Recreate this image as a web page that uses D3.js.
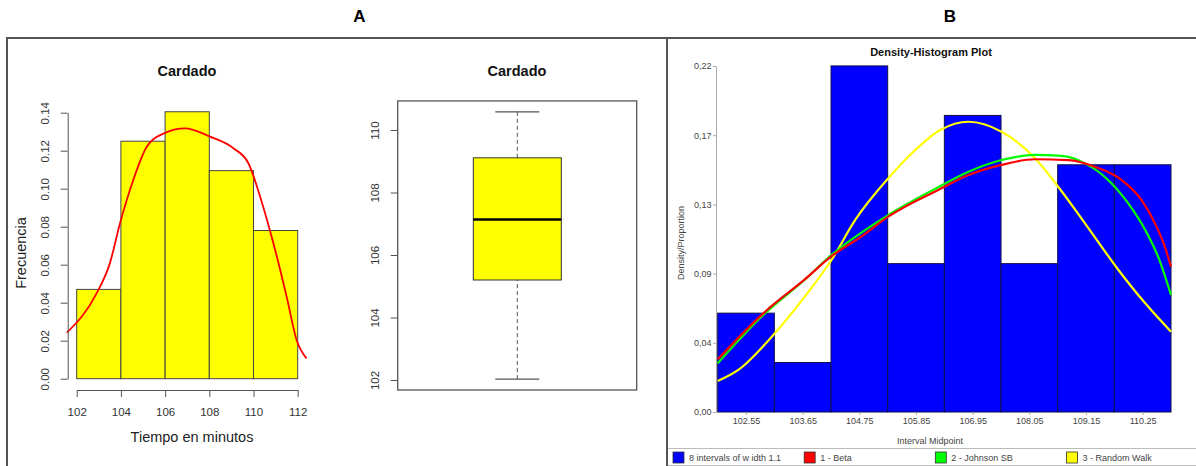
<!DOCTYPE html>
<html lang="es">
<head>
    <meta charset="UTF-8">
    <title>Cardado</title>
    <script src="https://d3js.org/d3.v7.min.js"></script>
</head>
<style>
    body{
        margin: 0;
        background: #fff;
        font-family: 'Liberation Sans', Arial, sans-serif;
    }
    svg text{
        font-family: 'Liberation Sans', Arial, sans-serif;
    }
</style>
<body>
    <div id="chart-container"></div>
    <script>
        // panel A - histogram
        const histEdges = [102, 104, 106, 108, 110, 112];
        const histFreq = [0.047, 0.125, 0.1405, 0.1095, 0.078];
        const histYTicks = [0, 0.02, 0.04, 0.06, 0.08, 0.10, 0.12, 0.14];
        const histXTicks = [102, 104, 106, 108, 110, 112];
        const densX = [101.55, 102.9, 103.5, 103.96, 104.56, 105.17, 105.92, 106.9, 108.03, 109.09, 109.77, 110.3, 110.9, 111.5, 111.95, 112.4];
        const densY = [0.0242, 0.0449, 0.0607, 0.0818, 0.1046, 0.1221, 0.129, 0.1318, 0.1274, 0.1213, 0.1134, 0.0958, 0.0713, 0.0432, 0.0204, 0.0107];

        // panel A - boxplot (min, q1, median, q3, max)
        const boxStats = [102.03, 105.2, 107.14, 109.11, 110.58];
        const boxTicks = [102, 104, 106, 108, 110];

        // panel B - density histogram
        const binMids = [102.55, 103.65, 104.75, 105.85, 106.95, 108.05, 109.15, 110.25];
        const binLabels = ["102.55", "103.65", "104.75", "105.85", "106.95", "108.05", "109.15", "110.25"];
        const binProps = [0.0625, 0.0313, 0.2188, 0.0938, 0.1875, 0.0938, 0.1563, 0.1563];
        const binWidth = 1.1;
        const yTickLabels = ["0,00", "0,04", "0,09", "0,13", "0,17", "0,22"];

        const betaX = [102.0, 102.92, 103.69, 104.21, 104.80, 105.31, 106.28, 106.87, 107.51, 108.16, 108.81, 109.32, 109.84, 110.23, 110.52, 110.68, 110.8];
        const betaY = [0.0333, 0.0634, 0.0838, 0.0985, 0.1112, 0.1235, 0.1404, 0.1498, 0.1562, 0.1598, 0.1593, 0.1551, 0.1467, 0.134, 0.1172, 0.1045, 0.0919];
        const johnsonX = [102.0, 102.92, 103.69, 104.21, 105.31, 106.28, 106.87, 107.51, 108.16, 108.68, 109.13, 109.58, 109.97, 110.30, 110.55, 110.8];
        const johnsonY = [0.0308, 0.0624, 0.0836, 0.0993, 0.1245, 0.1421, 0.1519, 0.1593, 0.1625, 0.1619, 0.1572, 0.1467, 0.1319, 0.1151, 0.0982, 0.074];
        const walkX = [102.0, 102.40, 103.05, 103.69, 104.21, 104.67, 105.31, 105.77, 106.32, 106.87, 107.51, 108.16, 108.61, 109.13, 109.78, 110.30, 110.8];
        const walkY = [0.0196, 0.0266, 0.0476, 0.0729, 0.0961, 0.1214, 0.1477, 0.1636, 0.1783, 0.1835, 0.1772, 0.1604, 0.1424, 0.1193, 0.0898, 0.0687, 0.0508];

        const legendLabels = ["8 intervals of w idth 1.1", "1 - Beta", "2 - Johnson SB", "3 - Random Walk"];
        const legendColors = ["#0000ff", "#ff0000", "#00ff00", "#ffff00"];

        const w = 1196;
        const h = 466;

        const svg = d3.select(document.getElementById("chart-container"))
                    .append("svg")
                    .attr("width", w)
                    .attr("height", h);

        // frames + panel letters
        svg.append("rect")
            .attr("x", 7).attr("y", 38)
            .attr("width", 660).attr("height", 460)
            .attr("fill", "none").attr("stroke", "#555").attr("stroke-width", 2);
        svg.append("rect")
            .attr("x", 667).attr("y", 38)
            .attr("width", 560).attr("height", 460)
            .attr("fill", "none").attr("stroke", "#555").attr("stroke-width", 2);
        svg.append("text").attr("x", 359.5).attr("y", 21.5)
            .attr("text-anchor", "middle").style("font-size", "17px").style("font-weight", "bold")
            .text("A");
        svg.append("text").attr("x", 950).attr("y", 21.5)
            .attr("text-anchor", "middle").style("font-size", "17px").style("font-weight", "bold")
            .text("B");

        // ---------- histogram ----------
        const xH = d3.scaleLinear().domain([102, 112]).range([76.7, 297.7]);
        const yH = d3.scaleLinear().domain([0, 0.14]).range([378.7, 112.7]);

        svg.append("text").attr("x", 187).attr("y", 76)
            .attr("text-anchor", "middle").style("font-size", "14.5px").style("font-weight", "bold")
            .attr("fill", "#111").text("Cardado");

        svg.selectAll(".hbar")
            .data(histFreq)
            .enter()
            .append("rect")
            .attr("class", "hbar")
            .attr("x", (d, i) => xH(histEdges[i]))
            .attr("width", (d, i) => xH(histEdges[i + 1]) - xH(histEdges[i]))
            .attr("y", (d) => yH(d))
            .attr("height", (d) => yH(0) - yH(d))
            .attr("fill", "#ffff00")
            .attr("stroke", "#444")
            .attr("stroke-width", 1);

        const densLine = d3.line()
            .x((d, i) => xH(densX[i]))
            .y((d) => yH(d))
            .curve(d3.curveMonotoneX);
        svg.append("path")
            .attr("d", densLine(densY))
            .attr("fill", "none")
            .attr("stroke", "#ff0000")
            .attr("stroke-width", 1.8);

        const hYAxis = d3.axisLeft(yH)
            .tickValues(histYTicks)
            .tickFormat(d3.format(".2f"))
            .tickSize(7).tickSizeOuter(0);
        const gHY = svg.append("g")
            .attr("transform", "translate(67.7, 0)")
            .call(hYAxis);
        gHY.selectAll(".tick text")
            .attr("transform", "rotate(-90)")
            .attr("x", 0).attr("y", -18.5).attr("dy", 0)
            .attr("text-anchor", "middle");

        const hXAxis = d3.axisBottom(xH)
            .tickValues(histXTicks)
            .tickSize(7).tickSizeOuter(0);
        const gHX = svg.append("g")
            .attr("transform", "translate(0, 390)")
            .call(hXAxis);
        gHX.selectAll("text").attr("y", 18).attr("dy", "0.71em");

        [gHY, gHX].forEach(g => {
            g.selectAll("path, line").attr("stroke", "#555");
            g.selectAll("text").style("font-size", "11.5px").attr("fill", "#333");
        });

        svg.append("text").attr("x", 192).attr("y", 442)
            .attr("text-anchor", "middle").style("font-size", "14.5px")
            .attr("fill", "#222").text("Tiempo en minutos");
        svg.append("text")
            .attr("transform", "translate(26, 253) rotate(-90)")
            .attr("text-anchor", "middle").style("font-size", "14.5px")
            .attr("fill", "#222").text("Frecuencia");

        // ---------- boxplot ----------
        const yB = d3.scaleLinear().domain([102, 110]).range([380, 130]);
        const boxCx = 517.3;

        svg.append("text").attr("x", 517).attr("y", 76)
            .attr("text-anchor", "middle").style("font-size", "14.5px").style("font-weight", "bold")
            .attr("fill", "#111").text("Cardado");

        svg.append("rect")
            .attr("x", 397.7).attr("y", yB(110.93))
            .attr("width", 239).attr("height", yB(101.68) - yB(110.93))
            .attr("fill", "none").attr("stroke", "#555").attr("stroke-width", 1.3);

        // whiskers
        svg.append("line")
            .attr("x1", boxCx).attr("x2", boxCx)
            .attr("y1", yB(boxStats[0])).attr("y2", yB(boxStats[1]))
            .attr("stroke", "#555").attr("stroke-dasharray", "4,3");
        svg.append("line")
            .attr("x1", boxCx).attr("x2", boxCx)
            .attr("y1", yB(boxStats[3])).attr("y2", yB(boxStats[4]))
            .attr("stroke", "#555").attr("stroke-dasharray", "4,3");
        [boxStats[0], boxStats[4]].forEach(v => {
            svg.append("line")
                .attr("x1", boxCx - 22).attr("x2", boxCx + 22)
                .attr("y1", yB(v)).attr("y2", yB(v))
                .attr("stroke", "#555").attr("stroke-width", 1.3);
        });
        svg.append("rect")
            .attr("x", boxCx - 44).attr("y", yB(boxStats[3]))
            .attr("width", 88).attr("height", yB(boxStats[1]) - yB(boxStats[3]))
            .attr("fill", "#ffff00").attr("stroke", "#333").attr("stroke-width", 1);
        svg.append("line")
            .attr("x1", boxCx - 44).attr("x2", boxCx + 44)
            .attr("y1", yB(boxStats[2])).attr("y2", yB(boxStats[2]))
            .attr("stroke", "#000").attr("stroke-width", 2.5);

        const bAxis = d3.axisLeft(yB).tickValues(boxTicks).tickSize(7).tickSizeOuter(0);
        const gB = svg.append("g").attr("transform", "translate(397.7, 0)").call(bAxis);
        gB.select(".domain").remove();
        gB.selectAll("line").attr("stroke", "#555");
        gB.selectAll(".tick text")
            .attr("transform", "rotate(-90)")
            .attr("x", 0).attr("y", -18.5).attr("dy", 0)
            .attr("text-anchor", "middle")
            .style("font-size", "11.5px").attr("fill", "#333");

        // ---------- panel B ----------
        const xR = d3.scaleLinear().domain([102, 110.8]).range([717.7, 1171]);
        const yMax = 0.21875;
        const yR = d3.scaleLinear().domain([0, yMax]).range([412, 66]);

        svg.append("text").attr("x", 931).attr("y", 55.5)
            .attr("text-anchor", "middle").style("font-size", "11px").style("font-weight", "bold")
            .attr("fill", "#111").text("Density-Histogram Plot");

        svg.selectAll(".rbar")
            .data(binProps)
            .enter()
            .append("rect")
            .attr("class", "rbar")
            .attr("x", (d, i) => xR(binMids[i] - binWidth / 2))
            .attr("width", (d, i) => xR(binMids[i] + binWidth / 2) - xR(binMids[i] - binWidth / 2))
            .attr("y", (d) => yR(d))
            .attr("height", (d) => yR(0) - yR(d))
            .attr("fill", "#0000ff")
            .attr("stroke", "#10104a")
            .attr("stroke-width", 1);

        const curves = [
            {xs: walkX, ys: walkY, color: "#ffff00"},
            {xs: johnsonX, ys: johnsonY, color: "#00ff00"},
            {xs: betaX, ys: betaY, color: "#ff0000"}
        ];
        curves.forEach(c => {
            const line = d3.line()
                .x((d, i) => xR(c.xs[i]))
                .y((d) => yR(d))
                .curve(d3.curveMonotoneX);
            svg.append("path")
                .attr("d", line(c.ys))
                .attr("fill", "none")
                .attr("stroke", c.color)
                .attr("stroke-width", 2.2);
        });

        const rYAxis = d3.axisLeft(yR)
            .tickValues(d3.range(6).map(k => yMax * k / 5))
            .tickFormat((d, i) => yTickLabels[i])
            .tickSize(3).tickSizeOuter(0);
        const gRY = svg.append("g").attr("transform", "translate(716, 0)").call(rYAxis);
        gRY.selectAll("path, line").attr("stroke", "#aaa");
        gRY.selectAll("text").style("font-size", "9px").attr("fill", "#444").attr("x", -4.5);

        const rXAxis = d3.axisBottom(xR)
            .tickValues(binMids)
            .tickFormat((d, i) => binLabels[i])
            .tickSize(3).tickSizeOuter(0);
        const gRX = svg.append("g").attr("transform", "translate(0, 412)").call(rXAxis);
        gRX.select(".domain").remove();
        gRX.selectAll("line").attr("stroke", "#aaa");
        gRX.selectAll("text").style("font-size", "9px").attr("fill", "#444").attr("y", 6);

        svg.append("text").attr("x", 930).attr("y", 444)
            .attr("text-anchor", "middle").style("font-size", "9px")
            .attr("fill", "#444").text("Interval Midpoint");
        svg.append("text")
            .attr("transform", "translate(684, 243) rotate(-90)")
            .attr("text-anchor", "middle").style("font-size", "9px")
            .attr("fill", "#444").text("Density/Proportion");

        // legend strip
        svg.append("line").attr("x1", 668).attr("x2", w)
            .attr("y1", 448.5).attr("y2", 448.5)
            .attr("stroke", "#bbb");
        svg.append("line").attr("x1", 668).attr("x2", w)
            .attr("y1", 465.5).attr("y2", 465.5)
            .attr("stroke", "#bbb");
        const legendX = d3.scalePoint().domain(legendLabels).range([673, 1066.5]);
        const leg = svg.selectAll(".leg")
            .data(legendLabels)
            .enter()
            .append("g")
            .attr("class", "leg")
            .attr("transform", (d) => "translate(" + legendX(d) + ", 452)");
        leg.append("rect")
            .attr("width", 11).attr("height", 11)
            .attr("fill", (d, i) => legendColors[i])
            .attr("stroke", "#333").attr("stroke-width", 0.8);
        leg.append("text")
            .attr("x", 16).attr("y", 9)
            .style("font-size", "9px").attr("fill", "#444")
            .text((d) => d);
    </script>
</body>
</html>
